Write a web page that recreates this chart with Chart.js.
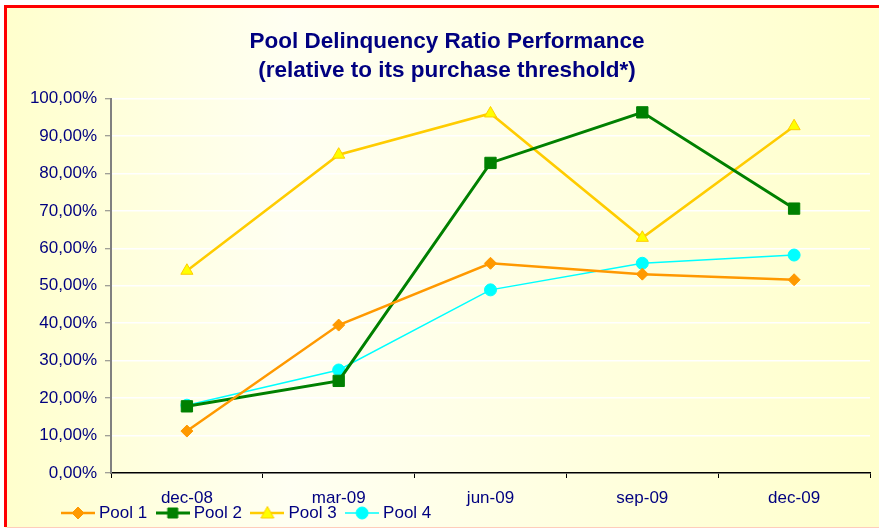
<!DOCTYPE html>
<html>
<head>
<meta charset="utf-8">
<script src="https://cdn.jsdelivr.net/npm/chart.js@4.4.1/dist/chart.umd.min.js"></script>
<style>
  html, body { margin: 0; padding: 0; background: #ffffff; }
  #wrap { width: 879px; height: 528px; position: relative; }
</style>
</head>
<body>
<div id="wrap"><canvas id="c" width="879" height="528"></canvas></div>
<script>
const categories = ['dec-08', 'mar-09', 'jun-09', 'sep-09', 'dec-09'];
const pool1 = [11.2, 39.5, 56.0, 53.1, 51.6];
const pool2 = [17.8, 24.6, 82.8, 96.3, 70.6];
const pool3 = [54.0, 85.0, 96.0, 62.8, 92.6];
const pool4 = [18.1, 27.5, 48.9, 56.0, 58.2];
const seriesNames = ['Pool 1', 'Pool 2', 'Pool 3', 'Pool 4'];
const yTicks = [0, 10, 20, 30, 40, 50, 60, 70, 80, 90, 100];

const NAVY = '#000080';
const FONT = "'Liberation Sans', Arial, sans-serif";

function legendIcon(lineColor, lineW, shape, fill, stroke) {
  const cv = document.createElement('canvas');
  cv.width = 34; cv.height = 16;
  const g = cv.getContext('2d');
  g.strokeStyle = lineColor; g.lineWidth = lineW;
  g.beginPath(); g.moveTo(0, 8); g.lineTo(34, 8); g.stroke();
  g.fillStyle = fill; g.strokeStyle = stroke; g.lineWidth = 1;
  g.beginPath();
  if (shape === 'diamond') {
    g.moveTo(17, 2); g.lineTo(23, 8); g.lineTo(17, 14); g.lineTo(11, 8); g.closePath();
  } else if (shape === 'square') {
    g.rect(12, 3, 10, 10);
  } else if (shape === 'triangle') {
    g.moveTo(17, 1.5); g.lineTo(23.5, 13); g.lineTo(10.5, 13); g.closePath();
  } else {
    g.arc(17, 8, 6, 0, Math.PI * 2);
  }
  g.fill(); g.stroke();
  return cv;
}

const icons = [
  legendIcon('#FF9900', 2.5, 'diamond', '#FF9900', '#FF9900'),
  legendIcon('#008000', 3, 'square', '#008000', '#008000'),
  legendIcon('#FFCC00', 2.5, 'triangle', '#FFFF00', '#FFCC00'),
  legendIcon('#00FFFF', 1.5, 'circle', '#00FFFF', '#00FFFF')
];

const bgPlugin = {
  id: 'bg',
  beforeDraw(chart) {
    const ctx = chart.ctx;
    const w = chart.width, h = chart.height;
    ctx.save();
    ctx.fillStyle = '#ffffff';
    ctx.fillRect(0, 0, w, h);
    const gr = ctx.createLinearGradient(0, 0, w, 0);
    gr.addColorStop(0, '#FFFFCC');
    gr.addColorStop(0.33, '#FFFFF2');
    gr.addColorStop(1, '#FFFFCC');
    ctx.fillStyle = gr;
    ctx.fillRect(5, 6, w - 5, h - 6);
    ctx.strokeStyle = '#FF0000';
    ctx.lineWidth = 3;
    ctx.beginPath();
    ctx.moveTo(5.5, h - 1);
    ctx.lineTo(5.5, 6.5);
    ctx.lineTo(w, 6.5);
    ctx.stroke();
    ctx.strokeStyle = '#FFCCBB';
    ctx.lineWidth = 1;
    ctx.beginPath();
    ctx.moveTo(7, h - 0.5);
    ctx.lineTo(w, h - 0.5);
    ctx.stroke();
    ctx.restore();
  },
  afterLayout(chart) {
    const lg = chart.legend;
    if (lg) {
      lg.left += 34.5;
      lg.right += 34.5;
      lg.top -= 16.5;
      lg.bottom -= 16.5;
    }
  }
};

const mk = (label, data, color, width, style, radius, bg, border) => ({
  label, data,
  borderColor: color,
  borderWidth: width,
  pointStyle: style,
  pointRadius: radius,
  pointHoverRadius: radius,
  pointBackgroundColor: bg,
  pointBorderColor: border,
  pointBorderWidth: 1,
  tension: 0,
  fill: false
});

new Chart(document.getElementById('c'), {
  type: 'line',
  data: {
    labels: categories,
    datasets: [
      mk(seriesNames[0], pool1, '#FF9900', 2.5, 'rectRot', 6, '#FF9900', '#FF9900'),
      mk(seriesNames[1], pool2, '#008000', 3, 'rect', 8, '#008000', '#008000'),
      mk(seriesNames[2], pool3, '#FFCC00', 2.5, 'triangle', 7, '#FFFF00', '#FFCC00'),
      mk(seriesNames[3], pool4, '#00FFFF', 1.5, 'circle', 6, '#00FFFF', '#00FFFF')
    ]
  },
  options: {
    responsive: false,
    animation: false,
    devicePixelRatio: 1,
    layout: { padding: { left: 18, right: 3, top: 0, bottom: -20 } },
    plugins: {
      title: {
        display: true,
        text: ['Pool Delinquency Ratio Performance', '(relative to its purchase threshold*)'],
        color: NAVY,
        font: { family: FONT, size: 22.5, weight: 'bold', lineHeight: 1.3 },
        padding: { top: 27, bottom: 13 }
      },
      legend: {
        display: true,
        position: 'bottom',
        align: 'start',
        labels: {
          color: NAVY,
          font: { family: FONT, size: 17 },
          usePointStyle: true,
          pointStyleWidth: 25,
          padding: 13,
          generateLabels(chart) {
            return chart.data.datasets.map((ds, i) => ({
              text: ds.label,
              pointStyle: icons[i],
              fillStyle: 'transparent',
              strokeStyle: 'transparent',
              lineWidth: 0,
              fontColor: NAVY,
              hidden: false,
              datasetIndex: i
            }));
          }
        }
      },
      tooltip: { enabled: false }
    },
    scales: {
      x: {
        offset: true,
        grid: {
          offset: true,
          drawOnChartArea: false,
          drawTicks: true,
          tickLength: 5,
          tickColor: '#000000',
          tickWidth: 1
        },
        border: { color: '#000000', width: 1.5 },
        ticks: { color: NAVY, font: { family: FONT, size: 17 }, padding: 10, maxRotation: 0 },
        afterFit(scale) { scale.height = 35; }
      },
      y: {
        min: 0,
        max: 100,
        afterBuildTicks(scale) { scale.ticks = yTicks.map(v => ({ value: v })); },
        grid: {
          color: '#FFFFFF',
          lineWidth: 1.5,
          drawTicks: true,
          tickLength: 6,
          tickColor: '#808080',
          tickWidth: 1
        },
        border: { color: '#808080', width: 2 },
        ticks: {
          color: NAVY,
          font: { family: FONT, size: 17 },
          padding: 8,
          callback: v => v.toFixed(2).replace('.', ',') + '%'
        },
        afterFit(scale) { scale.width = 93; }
      }
    }
  },
  plugins: [bgPlugin]
});
</script>
</body>
</html>
